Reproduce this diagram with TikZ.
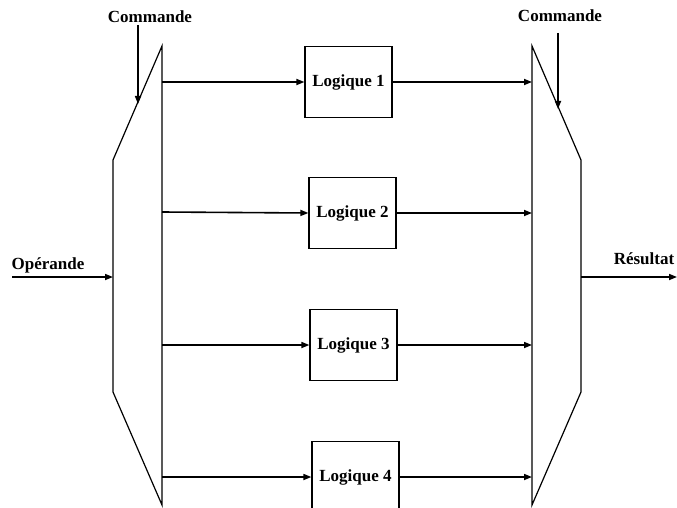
\documentclass[tikz,border=0pt]{standalone}
\usepackage{fontspec}
\setmainfont{Liberation Serif}
\usetikzlibrary{arrows.meta}
\begin{document}
\begin{tikzpicture}[x=1pt,y=-1pt,
  lbl/.style={font=\fontsize{17}{19}\selectfont\bfseries, inner sep=0pt},
  logbox/.style={draw, line width=1.2pt, minimum width=87pt, minimum height=71pt, font=\fontsize{17}{19}\selectfont\bfseries, inner sep=0pt},
  mux/.style={draw, line width=1.2pt, line join=miter},
  arr/.style={line width=1.6pt, -{Triangle[length=8pt,width=6pt]}}]
\useasboundingbox (0,0) rectangle (677,508);
% left multiplexer
\coordinate (LTR) at (162,46);
\coordinate (LTL) at (113,160);
\coordinate (LBL) at (113,392);
\coordinate (LBR) at (162,505);
\draw[mux] (LTR) -- (LTL) -- (LBL) -- (LBR) -- cycle;
% right multiplexer
\coordinate (RTL) at (532,46);
\coordinate (RTR) at (581,160);
\coordinate (RBR) at (581,392);
\coordinate (RBL) at (532,505);
\draw[mux] (RTL) -- (RTR) -- (RBR) -- (RBL) -- cycle;
% boxes
\node[logbox] (B1) at (348.5,82) {Logique 1};
\node[logbox] (B2) at (352.5,213) {Logique 2};
\node[logbox] (B3) at (353.5,345) {Logique 3};
\node[logbox] (B4) at (355.5,477) {Logique 4};
% mux edge coordinates
\foreach \i/\y in {1/82,2/212,3/345,4/477}{
  \coordinate (ML\i) at (162,\y);
  \coordinate (MR\i) at (532,\y);
}
\draw[arr] (ML1) -- (B1.west);
\draw[arr] (ML2) -- (B2.west);
\draw[arr] (ML3) -- (B3.west);
\draw[arr] (ML4) -- (B4.west);
\draw[arr] (B1.east) -- (MR1);
\draw[arr] (B2.east) -- (MR2 |- B2.east);
\draw[arr] (B3.east) -- (MR3);
\draw[arr] (B4.east) -- (MR4);
% commande
\node[lbl] (CL) at (150,17) {Commande};
\node[lbl] (CR) at (560,16) {Commande};
\coordinate (CLs) at (138,25);
\coordinate (CLe) at (138,104);
\coordinate (CRs) at (558,33);
\coordinate (CRe) at (558,109);
\draw[arr] (CLs) -- (CLe);
\draw[arr] (CRs) -- (CRe);
% operande / resultat
\node[lbl] (OP) at (48,265) {Opérande};
\node[lbl] (RES) at (644,259) {Résultat};
\coordinate (OPs) at (12,277);
\coordinate (OPe) at (113,277);
\coordinate (RSs) at (581,277);
\coordinate (RSe) at (677,277);
\draw[arr] (OPs) -- (OPe);
\draw[arr] (RSs) -- (RSe);
\end{tikzpicture}
\end{document}
